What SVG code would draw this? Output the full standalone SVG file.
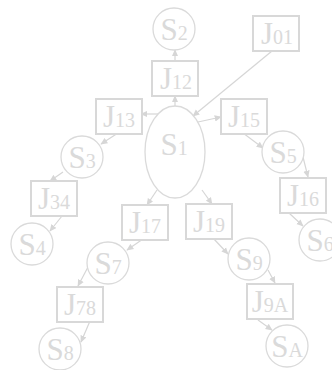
<svg xmlns="http://www.w3.org/2000/svg" width="332" height="370" viewBox="0 0 332 370">
<defs>
<marker id="ah" viewBox="0 0 10 10" refX="9" refY="5" markerWidth="7" markerHeight="7" markerUnits="userSpaceOnUse" orient="auto">
<path d="M0,0.5 L10,5 L0,9.5 z" fill="#d6d6d6"/>
</marker>
<style>
.box{fill:#fff;stroke:#d8d8d8;stroke-width:2}
.st{fill:#fff;stroke:#dadada;stroke-width:1.3}
.lbl{font-family:"Liberation Serif","Times New Roman",serif;font-size:31px;fill:#dadada;text-anchor:middle}
.sub{font-size:20px}
.ed line{stroke:#d6d6d6;stroke-width:1.2;marker-end:url(#ah)}
</style>
</defs>
<rect width="332" height="370" fill="#fff"/>
<g class="ed" id="connectors">
<line x1="175" y1="61" x2="175" y2="50"/>
<line x1="175" y1="106" x2="175" y2="96"/>
<line x1="158" y1="114" x2="141" y2="114"/>
<line x1="198" y1="122" x2="221" y2="117"/>
<line x1="272" y1="51" x2="193" y2="116"/>
<line x1="118" y1="133" x2="101" y2="144"/>
<line x1="63" y1="172" x2="50" y2="181"/>
<line x1="62" y1="216" x2="50" y2="231"/>
<line x1="157" y1="190" x2="147" y2="205"/>
<line x1="143" y1="239" x2="127" y2="250"/>
<line x1="88" y1="267" x2="78" y2="286"/>
<line x1="90" y1="321" x2="81" y2="342"/>
<line x1="202" y1="190" x2="212" y2="204"/>
<line x1="213" y1="238" x2="228" y2="254"/>
<line x1="268" y1="270" x2="275" y2="283"/>
<line x1="258" y1="320" x2="272" y2="330"/>
<line x1="243" y1="133" x2="263" y2="148"/>
<line x1="303" y1="157" x2="308" y2="177"/>
<line x1="289" y1="213" x2="303" y2="226"/>
</g>
<g id="S1"><ellipse class="st" cx="175" cy="152" rx="30" ry="46"/><text class="lbl" x="174" y="155">S<tspan class="sub">1</tspan></text></g>
<g id="S2"><circle class="st" cx="174" cy="29" r="21"/><text class="lbl" x="174" y="40">S<tspan class="sub">2</tspan></text></g>
<g id="S3"><circle class="st" cx="82" cy="157" r="21"/><text class="lbl" x="82" y="168">S<tspan class="sub">3</tspan></text></g>
<g id="S4"><circle class="st" cx="32" cy="244" r="21"/><text class="lbl" x="32" y="255">S<tspan class="sub">4</tspan></text></g>
<g id="S5"><circle class="st" cx="283" cy="152" r="21"/><text class="lbl" x="283" y="163">S<tspan class="sub">5</tspan></text></g>
<g id="S6"><circle class="st" cx="320" cy="240" r="21"/><text class="lbl" x="320" y="251">S<tspan class="sub">6</tspan></text></g>
<g id="S7"><circle class="st" cx="108" cy="263" r="21"/><text class="lbl" x="108" y="274">S<tspan class="sub">7</tspan></text></g>
<g id="S8"><circle class="st" cx="60" cy="349" r="21"/><text class="lbl" x="60" y="360">S<tspan class="sub">8</tspan></text></g>
<g id="S9"><circle class="st" cx="249" cy="259" r="21"/><text class="lbl" x="249" y="270">S<tspan class="sub">9</tspan></text></g>
<g id="SA"><circle class="st" cx="287" cy="346" r="21"/><text class="lbl" x="287" y="357">S<tspan class="sub">A</tspan></text></g>
<g id="J01"><rect class="box" x="253" y="16" width="46" height="35"/><text class="lbl" x="277" y="44">J<tspan class="sub">01</tspan></text></g>
<g id="J12"><rect class="box" x="152" y="61" width="46" height="35"/><text class="lbl" x="176" y="89">J<tspan class="sub">12</tspan></text></g>
<g id="J13"><rect class="box" x="96" y="99" width="46" height="35"/><text class="lbl" x="119" y="127">J<tspan class="sub">13</tspan></text></g>
<g id="J15"><rect class="box" x="221" y="99" width="46" height="35"/><text class="lbl" x="244" y="127">J<tspan class="sub">15</tspan></text></g>
<g id="J34"><rect class="box" x="31" y="181" width="46" height="35"/><text class="lbl" x="54" y="209">J<tspan class="sub">34</tspan></text></g>
<g id="J17"><rect class="box" x="122" y="205" width="46" height="35"/><text class="lbl" x="145" y="233">J<tspan class="sub">17</tspan></text></g>
<g id="J19"><rect class="box" x="186" y="204" width="46" height="35"/><text class="lbl" x="209" y="232">J<tspan class="sub">19</tspan></text></g>
<g id="J16"><rect class="box" x="280" y="178" width="46" height="35"/><text class="lbl" x="303" y="206">J<tspan class="sub">16</tspan></text></g>
<g id="J78"><rect class="box" x="57" y="287" width="46" height="35"/><text class="lbl" x="80" y="315">J<tspan class="sub">78</tspan></text></g>
<g id="J9A"><rect class="box" x="247" y="284" width="46" height="35"/><text class="lbl" x="270" y="312">J<tspan class="sub">9A</tspan></text></g>
</svg>
